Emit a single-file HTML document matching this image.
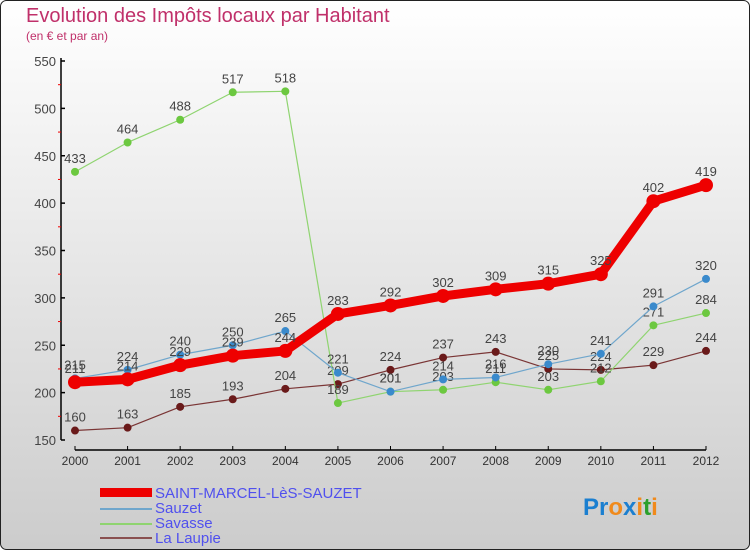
<!DOCTYPE html>
<html><head><meta charset="utf-8"><style>
body{margin:0;width:750px;height:550px;overflow:hidden;font-family:"Liberation Sans",sans-serif}
</style></head><body>
<svg width="750" height="550" xmlns="http://www.w3.org/2000/svg">
<defs><linearGradient id="bg" x1="0" y1="0" x2="0" y2="1"><stop offset="0" stop-color="#ffffff"/><stop offset="1" stop-color="#cccccc"/></linearGradient></defs>
<rect x="0.5" y="0.5" width="749" height="549" rx="6" fill="url(#bg)" stroke="#222"/>
<text x="26" y="22" font-size="20" fill="#c0306a">Evolution des Impôts locaux par Habitant</text>
<text x="26" y="40" font-size="12" fill="#c0306a">(en € et par an)</text>
<g id="axes"></g><g id="plot"></g>
<g font-size="15" fill="#5050ee">
<rect x="100" y="488" width="52" height="9" fill="#e00"/>
<text x="155" y="498">SAINT-MARCEL-LèS-SAUZET</text>
<rect x="100" y="508" width="52" height="2" fill="#6fa6cc"/>
<text x="155" y="513">Sauzet</text>
<rect x="100" y="523" width="52" height="2" fill="#8fd470"/>
<text x="155" y="528">Savasse</text>
<rect x="100" y="537" width="52" height="2" fill="#8a5050"/>
<text x="155" y="543">La Laupie</text>
</g>
<text x="583" y="515" font-size="24" font-weight="bold"><tspan fill="#1b7fd0">Pr</tspan><tspan fill="#f08a1c">o</tspan><tspan fill="#1b7fd0">x</tspan><tspan fill="#f08a1c">i</tspan><tspan fill="#2ca02c">t</tspan><tspan fill="#f08a1c">i</tspan></text>
</svg>
<script>
const years=[2000,2001,2002,2003,2004,2005,2006,2007,2008,2009,2010,2011,2012];
const yTicks=[150,200,250,300,350,400,450,500,550];
const stMarcel=[211,214,229,239,244,283,292,302,309,315,325,402,419];
const sauzet=[215,224,240,250,265,221,201,214,216,230,241,291,320];
const savasse=[433,464,488,517,518,189,201,203,211,203,212,271,284];
const laupie=[160,163,185,193,204,209,224,237,243,225,224,229,244];
const NS="http://www.w3.org/2000/svg";
const X=i=>75+i*(706-75)/12;
const Y=v=>440-(v-150)*(440-61)/400;
function mk(t,a,p){const e=document.createElementNS(NS,t);for(const k in a)e.setAttribute(k,a[k]);p.appendChild(e);return e;}
const ax=document.getElementById('axes');
let l=mk('line',{x1:61,y1:58,x2:61,y2:440,stroke:'#000','stroke-width':1.5},ax);

l=mk('line',{x1:75,y1:450,x2:706,y2:450,stroke:'#000','stroke-width':1.5},ax);

yTicks.forEach((v,i)=>{mk('line',{x1:61,y1:Y(v),x2:65,y2:Y(v),stroke:'#000','stroke-width':1.5},ax);
 if(i<yTicks.length-1)mk('line',{x1:58,y1:Y(v+25),x2:61,y2:Y(v+25),stroke:'#e00'},ax);
 const t=mk('text',{x:56,y:Y(v)+5,'text-anchor':'end','font-size':13,fill:'#444'},ax);t.textContent=v;
 });
years.forEach((y,i)=>{mk('line',{x1:X(i),y1:446,x2:X(i),y2:450,stroke:'#000'},ax);
 const t=mk('text',{x:X(i),y:465,'text-anchor':'middle','font-size':12,fill:'#333'},ax);t.textContent=y;
 });
const pl=document.getElementById('plot');
function series(d,name,col,dot,w,r){
 const g=mk('g',{},pl);
 const p=mk('polyline',{points:d.map((v,i)=>X(i)+','+Y(v)).join(' '),fill:'none',stroke:col,'stroke-width':w,'stroke-linejoin':'round'},g);
 
 d.forEach((v,i)=>{const c=mk('circle',{cx:X(i),cy:Y(v),r:r,fill:dot},g);
  
  const t=mk('text',{x:X(i),y:Y(v)-9,'text-anchor':'middle','font-size':13,fill:'#444'},g);t.textContent=v;
  });
}
series(laupie,'la-laupie','#7a3535','#6a1a1a',1.2,4);
series(savasse,'savasse','#8fd470','#6cc840',1.2,4);
series(sauzet,'sauzet','#6fa6cc','#3a8acc',1.2,4);
series(stMarcel,'saint-marcel','#ee0000','#ee0000',9,7);
</script>
</body></html>
